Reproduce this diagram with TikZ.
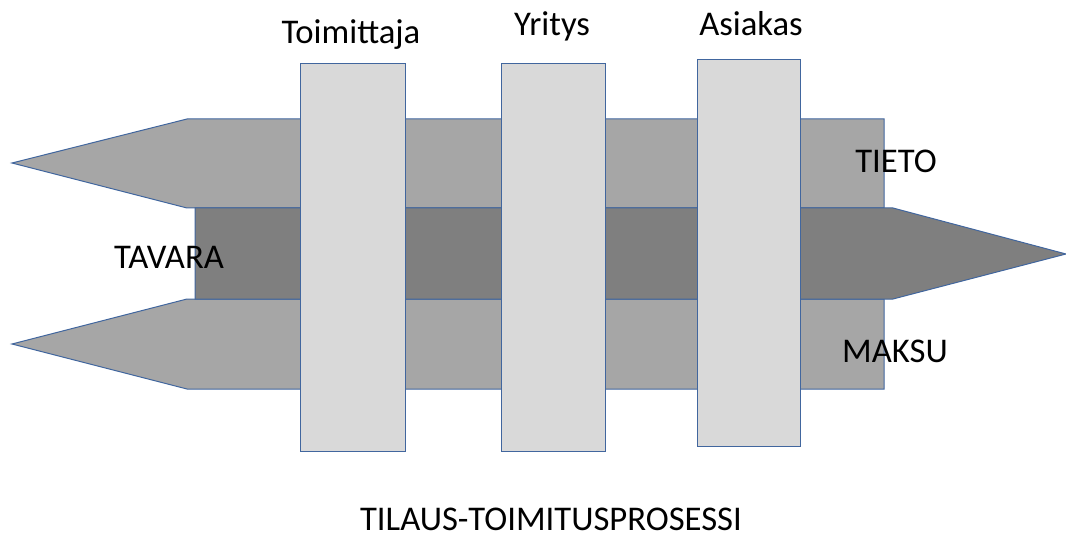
\documentclass[tikz,border=0pt]{standalone}
\usepackage{fontspec}
\setmainfont{Carlito}
\usetikzlibrary{positioning}
\definecolor{flowlight}{HTML}{A6A6A6}
\definecolor{flowdark}{HTML}{7F7F7F}
\definecolor{partyfill}{HTML}{D9D9D9}
\definecolor{edgeblue}{HTML}{41669E}
\tikzset{
  flow/.style = {draw=edgeblue, line width=0.75pt, line join=miter},
  flow_l/.style = {flow, fill=flowlight},
  flow_d/.style = {flow, fill=flowdark},
  party/.style = {draw=edgeblue, line width=0.75pt, fill=partyfill, inner sep=0pt, minimum height=290.25pt},
  lbl/.style = {font=\fontsize{26}{30}\selectfont, inner sep=0pt, anchor=base, text=black}
}

\begin{document}
\begin{tikzpicture}[x=0.75pt, y=-0.75pt]
	\useasboundingbox (0,0) rectangle (1066,538);
	% flows
	\draw [flow_l] (12,163) -- (187,119) -- (884,119) -- (884,208) -- (187,208) -- cycle;
	\draw [flow_l] (12,344) -- (187,299) -- (884,299) -- (884,389) -- (187,389) -- cycle;
	\draw [flow_d] (195,208) -- (893,208) -- (1066,254) -- (893,299) -- (195,299) -- cycle;
	% parties
	\node [party, minimum width=78.75pt] (toim) at (352.5,257.5) {};
	\node [party, minimum width=78pt] (yrit) at (553,257.5) {};
	\node [party, minimum width=77.25pt, minimum height=289.5pt] (asia) at (748.5,253) {};
	% labels
	\node [lbl] (toim_l) at (351,44) {Toimittaja};
	\node [lbl] (yrit_l) at (552,36) {Yritys};
	\node [lbl] (asia_l) at (751,36) {Asiakas};
	\node [lbl] (tieto) at (896,173) {TIETO};
	\node [lbl] (tavara) at (169,268) {TAVARA};
	\node [lbl] (maksu) at (895,362) {MAKSU};
	\node [lbl] (otsikko) at (551,530) {TILAUS-TOIMITUSPROSESSI};
\end{tikzpicture}
\end{document}
